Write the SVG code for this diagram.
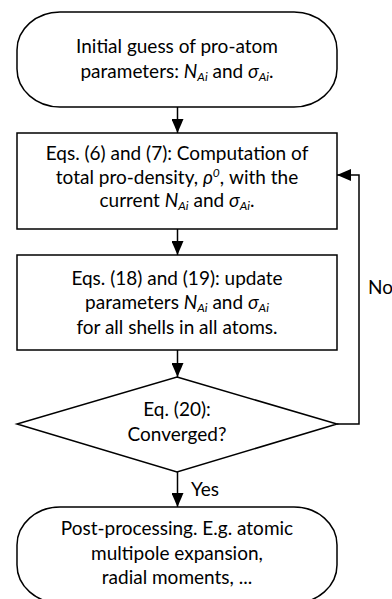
<svg xmlns="http://www.w3.org/2000/svg" width="392" height="599" viewBox="0 0 392 599">
<style>
.sh{fill:#fff;stroke:#000;stroke-width:1.5}
.t{font-family:Lato,"Liberation Sans",sans-serif;font-size:19px;fill:#000;text-anchor:middle}
.i{font-style:italic}
.s{font-size:12px;font-style:italic}
.c{fill:none;stroke:#000;stroke-width:1.5}
</style>
<defs>
<marker id="ah" markerWidth="14" markerHeight="12" refX="14" refY="6" orient="auto" markerUnits="userSpaceOnUse">
<path d="M0,0 L14,6 L0,12 Z" fill="#000"/>
</marker>
</defs>
<rect width="392" height="599" fill="#fff"/>
<g id="connectors">
<line class="c" x1="177.5" y1="107" x2="177.5" y2="133" marker-end="url(#ah)"/>
<line class="c" x1="177.5" y1="229" x2="177.5" y2="255" marker-end="url(#ah)"/>
<line class="c" x1="177.5" y1="350" x2="177.5" y2="377" marker-end="url(#ah)"/>
<line class="c" x1="177.5" y1="472" x2="177.5" y2="507" marker-end="url(#ah)"/>
<polyline class="c" points="337,424 359,424 359,175 337,175" marker-end="url(#ah)"/>
<text class="t" x="368" y="294" style="text-anchor:start">No</text>
<text class="t" x="191" y="496" style="text-anchor:start">Yes</text>
</g>
<g id="start">
<rect class="sh" x="17" y="12" width="320" height="95" rx="43" ry="38"/>
<text class="t" x="177" y="53">Initial guess of pro-atom</text>
<text class="t" x="177" y="78">parameters: <tspan class="i">N</tspan><tspan class="s" dy="3">Ai</tspan><tspan dy="-3"> and </tspan><tspan class="i">σ</tspan><tspan class="s" dy="3">Ai</tspan><tspan dy="-3">.</tspan></text>
</g>
<g id="density">
<rect class="sh" x="17" y="133" width="320" height="96"/>
<text class="t" x="177" y="160">Eqs. (6) and (7): Computation of</text>
<text class="t" x="177" y="184">total pro-density, <tspan class="i">ρ</tspan><tspan class="s" dy="-7">0</tspan><tspan dy="7">, with the</tspan></text>
<text class="t" x="177" y="207">current <tspan class="i">N</tspan><tspan class="s" dy="3">Ai</tspan><tspan dy="-3"> and </tspan><tspan class="i">σ</tspan><tspan class="s" dy="3">Ai</tspan><tspan dy="-3">.</tspan></text>
</g>
<g id="update">
<rect class="sh" x="17" y="255" width="320" height="95"/>
<text class="t" x="177" y="285">Eqs. (18) and (19): update</text>
<text class="t" x="177" y="309">parameters <tspan class="i">N</tspan><tspan class="s" dy="3">Ai</tspan><tspan dy="-3"> and </tspan><tspan class="i">σ</tspan><tspan class="s" dy="3">Ai</tspan></text>
<text class="t" x="177" y="334">for all shells in all atoms.</text>
</g>
<g id="decision">
<polygon class="sh" points="177,377 337,424 177,472 17,424"/>
<text class="t" x="177" y="416">Eq. (20):</text>
<text class="t" x="177" y="441">Converged?</text>
</g>
<g id="end">
<rect class="sh" x="17" y="507" width="320" height="96" rx="43" ry="38"/>
<text class="t" x="177" y="535">Post-processing. E.g. atomic</text>
<text class="t" x="177" y="560">multipole expansion,</text>
<text class="t" x="177" y="584">radial moments, ...</text>
</g>
</svg>
